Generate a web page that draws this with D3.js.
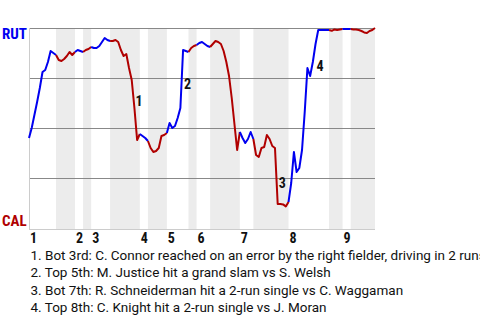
<!DOCTYPE html>
<html>
<head>
<meta charset="utf-8">
<script src="https://cdn.jsdelivr.net/npm/d3@7"></script>
<style>
  body { margin: 0; background: #fff; }
  text { font-family: "Roboto Condensed", "Liberation Sans Narrow", "DejaVu Sans Condensed", Roboto, sans-serif; }
  .caption { font-family: Roboto, sans-serif; }
</style>
</head>
<body>
<div id="wrapper"></div>
<script>
// win probability for RUT after each play (index = play number)
const rutWinProb = [
  .45, .50, .565, .63, .70, .78, .79, .83, .885, .875,
  .865, .84, .835, .845, .86, .88, .865, .88, .89, .885,
  .88, .89, .895, .905, .90, .90, .91, .93, .95, .94,
  .935, .935, .94, .93, .89, .86, .87, .80, .74, .60,
  .44, .47, .46, .45, .435, .40, .38, .385, .40, .46,
  .465, .475, .525, .50, .51, .55, .60, .89, .885, .88,
  .90, .91, .915, .925, .93, .92, .91, .905, .92, .935,
  .93, .92, .885, .83, .76, .65, .52, .39, .48, .45,
  .425, .445, .48, .445, .365, .355, .40, .405, .465, .445,
  .41, .40, .12, .12, .118, .108, .13, .225, .38, .28,
  .30, .39, .58, .80, .76, .83, .92, .99, .99, .99,
  .99, .99, .986, .993, .99, .993, .995, .995, .995, .995,
  .993, .993, .99, .985, .978, .975, .985, .99, 1.0,
]

// first play of each half inning (top 1, bot 1, top 2, ...)
const halfInningStarts = [0, 10, 17, 20, 23, 30, 41, 44, 51, 59, 62, 67, 78, 83, 96, 111, 116, 119]
const lastPlay = 128
const innings = ["1", "2", "3", "4", "5", "6", "7", "8", "9"]
const gridLevels = [0.25, 0.5, 0.75, 1]

const teams = { top: "RUT", bottom: "CAL" }

// numbered key plays: play where the number sits and the level it sits at
const keyPlays = [
  { n: "1", play: 39, level: .635 },
  { n: "2", play: 57, level: .72 },
  { n: "3", play: 92, level: .225 },
  { n: "4", play: 106, level: .81 },
]
const keyPlayText = [
  "1. Bot 3rd: C. Connor reached on an error by the right fielder, driving in 2 runs vs J. Moran",
  "2. Top 5th: M. Justice hit a grand slam vs S. Welsh",
  "3. Bot 7th: R. Schneiderman hit a 2-run single vs C. Waggaman",
  "4. Top 8th: C. Knight hit a 2-run single vs J. Moran",
]

function drawChart() {
  const blue = "#0000f0"
  const red = "#b00000"

  let dimensions = {
    width: 480,
    height: 320,
    margin: { top: 28, right: 105, bottom: 92, left: 29 },
  }
  dimensions.boundedWidth = dimensions.width - dimensions.margin.left - dimensions.margin.right
  dimensions.boundedHeight = dimensions.height - dimensions.margin.top - dimensions.margin.bottom

  const svg = d3.select("#wrapper")
    .append("svg")
      .attr("width", dimensions.width)
      .attr("height", dimensions.height)
  const bounds = svg.append("g")
    .attr("transform", `translate(${dimensions.margin.left},${dimensions.margin.top})`)

  // scales
  const xScale = d3.scaleLinear()
    .domain([0, lastPlay])
    .range([0, dimensions.boundedWidth])
  const yScale = d3.scaleLinear()
    .domain([0, 1])
    .range([dimensions.boundedHeight, 0])

  const halves = halfInningStarts.map((s, i) => ({
    start: s,
    end: i + 1 < halfInningStarts.length ? halfInningStarts[i + 1] : lastPlay,
    bottom: i % 2 == 1,
  }))

  // shade the bottom halves
  bounds.append("g")
    .selectAll("rect")
    .data(halves.filter(d => d.bottom))
    .join("rect")
      .attr("x", d => xScale(d.start))
      .attr("width", d => xScale(d.end) - xScale(d.start))
      .attr("y", 0)
      .attr("height", dimensions.boundedHeight + 1)
      .attr("fill", "#ececec")

  // grid lines
  bounds.append("g")
    .selectAll("line")
    .data(gridLevels)
    .join("line")
      .attr("x1", 0)
      .attr("x2", dimensions.boundedWidth)
      .attr("y1", d => Math.round(yScale(d)) + 0.5)
      .attr("y2", d => Math.round(yScale(d)) + 0.5)
      .attr("stroke", "#888")
      .attr("stroke-width", 1)

  // axis lines (light)
  bounds.append("line")
    .attr("x1", 0).attr("x2", dimensions.boundedWidth)
    .attr("y1", dimensions.boundedHeight + 1.5).attr("y2", dimensions.boundedHeight + 1.5)
    .attr("stroke", "#ccc")
  bounds.append("line")
    .attr("x1", 0.5).attr("x2", 0.5)
    .attr("y1", 0).attr("y2", dimensions.boundedHeight + 2)
    .attr("stroke", "#ccc")

  // win probability line, coloured by half inning
  const lineGenerator = d3.line()
    .x(d => xScale(d[0]))
    .y(d => yScale(d[1]))
  const points = rutWinProb.map((p, i) => [i, p])

  bounds.append("g")
    .selectAll("path")
    .data(halves)
    .join("path")
      .attr("d", d => lineGenerator(points.filter(p => p[0] >= d.start && p[0] <= d.end)))
      .attr("fill", "none")
      .attr("stroke", d => d.bottom ? red : blue)
      .attr("stroke-width", 2)
      .attr("stroke-linejoin", "round")

  // key play numbers
  bounds.append("g")
    .selectAll("text")
    .data(keyPlays)
    .join("text")
      .attr("x", d => xScale(d.play) + 1)
      .attr("y", d => yScale(d.level))
      .attr("dy", "0.36em")
      .attr("font-size", 14)
      .attr("font-weight", "bold")
      .attr("fill", "#111")
      .text(d => d.n)

  // team labels
  svg.append("text")
    .attr("x", 2)
    .attr("y", dimensions.margin.top + yScale(1) + 6)
    .attr("dy", "0.36em")
    .attr("font-size", 15)
    .attr("font-weight", "bold")
    .attr("fill", blue)
    .text(teams.top)
  svg.append("text")
    .attr("x", 2)
    .attr("y", dimensions.margin.top + yScale(0) - 7)
    .attr("dy", "0.36em")
    .attr("font-size", 15)
    .attr("font-weight", "bold")
    .attr("fill", red)
    .text(teams.bottom)

  // inning numbers at the start of each inning
  bounds.append("g")
    .selectAll("text")
    .data(innings)
    .join("text")
      .attr("x", (d, i) => xScale(halfInningStarts[i * 2]) + 1)
      .attr("y", dimensions.boundedHeight + 15)
      .attr("font-size", 14)
      .attr("font-weight", "bold")
      .attr("fill", "#111")
      .text(d => d)

  // key play descriptions
  svg.append("g")
    .selectAll("text")
    .data(keyPlayText)
    .join("text")
      .attr("class", "caption")
      .attr("x", 30.5)
      .attr("y", (d, i) => 259.5 + i * 17.6)
      .attr("font-size", 13.5)
      .attr("fill", "#111")
      .text(d => d)
}

drawChart()
</script>
</body>
</html>
